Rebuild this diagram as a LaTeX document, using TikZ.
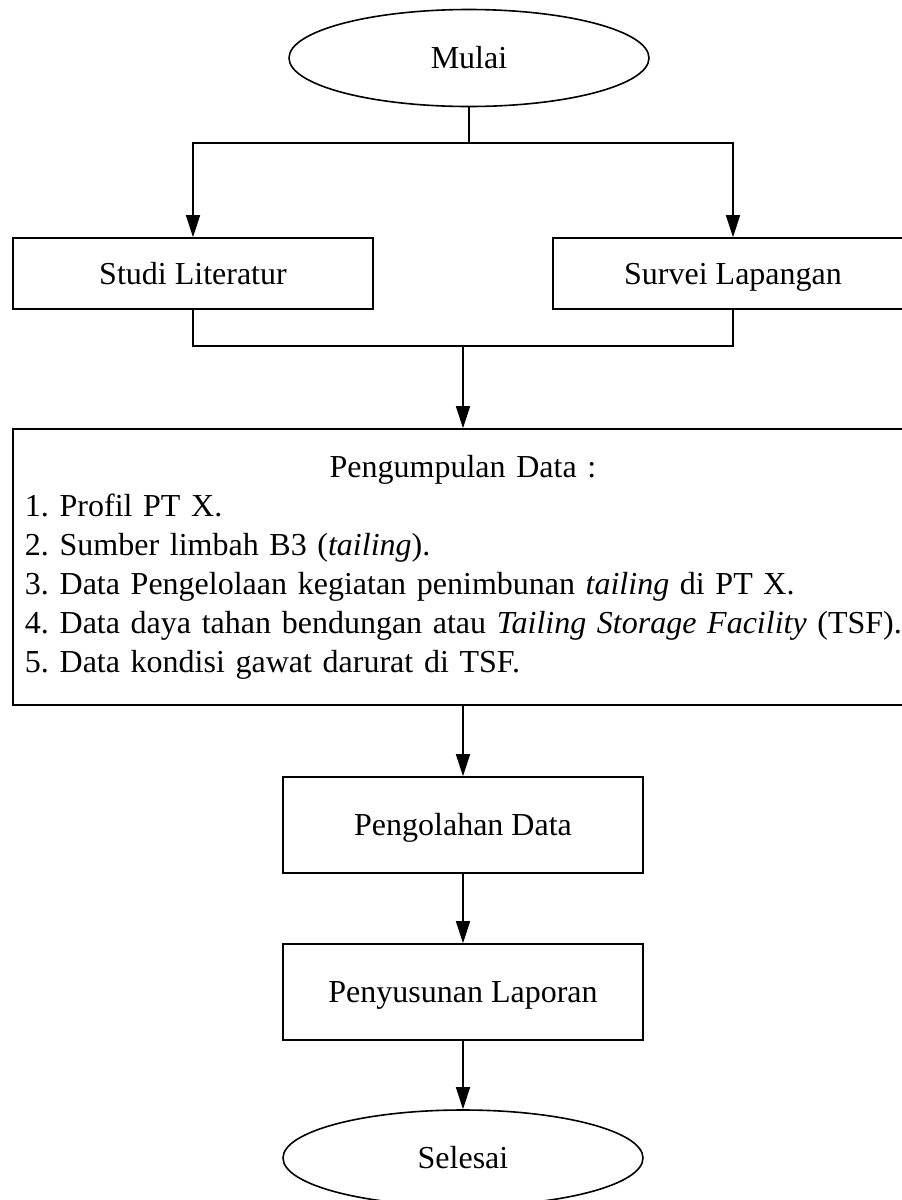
\documentclass[tikz,border=0pt]{standalone}
\usepackage{fontspec}
\setmainfont{Liberation Serif}
\frenchspacing
\usetikzlibrary{arrows.meta,positioning,shapes.geometric}

\begin{document}
\begin{tikzpicture}[x=0.5pt,y=-0.5pt,
    every node/.style={font=\fontsize{16}{19.5}\selectfont},
    procbox/.style={draw,line width=0.8pt,minimum width=180pt,minimum height=48pt,
      inner sep=0pt,text height=10.6pt,text depth=0pt},
    terminal/.style={draw,ellipse,line width=0.8pt,minimum width=180pt,minimum height=48.5pt,
      inner sep=0pt,text height=10.6pt,text depth=0pt},
    listbox/.style={draw,line width=0.8pt,minimum width=450pt,minimum height=138pt,
      text width=438pt,inner sep=6pt,align=left},
    flow/.style={-{Triangle[length=11pt,width=7pt]},line width=0.8pt}]
  \useasboundingbox (0,0) rectangle (901,1200);
  \node[terminal] (mulai) at (469,58) {Mulai};
  \node[procbox,minimum height=35.5pt] (studi) at (193,273.5) {Studi Literatur};
  \node[procbox,minimum height=35.5pt] (survei) at (733,273.5) {Survei Lapangan};
  \node[listbox] (kumpul) at (463,567)
    {\hbox to\hsize{\hfil Pengumpulan Data :\hfil}
     1. Profil PT X.\\
     2. Sumber limbah B3 (\textit{tailing}).\\
     3. Data Pengelolaan kegiatan penimbunan \textit{tailing} di PT X.\\
     \mbox{4. Data daya tahan bendungan atau \textit{Tailing Storage Facility} (TSF).}\\
     5. Data kondisi gawat darurat di TSF.};
  \node[procbox] (olah) at (463,825) {Pengolahan Data};
  \node[procbox] (susun) at (463,992) {Penyusunan Laporan};
  \node[terminal,minimum height=48pt] (selesai) at (463,1158) {Selesai};

  % split and merge points
  \coordinate (split) at (469,143);
  \coordinate (merge) at (463,346);

  \draw[line width=0.8pt] (mulai) -- (split);
  \draw[flow] (split) -| (studi);
  \draw[flow] (split) -| (survei);
  \draw[line width=0.8pt] (studi) |- (merge);
  \draw[line width=0.8pt] (survei) |- (merge);
  \draw[flow] (merge) -- (kumpul);
  \draw[flow] (kumpul) -- (olah);
  \draw[flow] (olah) -- (susun);
  \draw[flow] (susun) -- (selesai);
\end{tikzpicture}
\end{document}
